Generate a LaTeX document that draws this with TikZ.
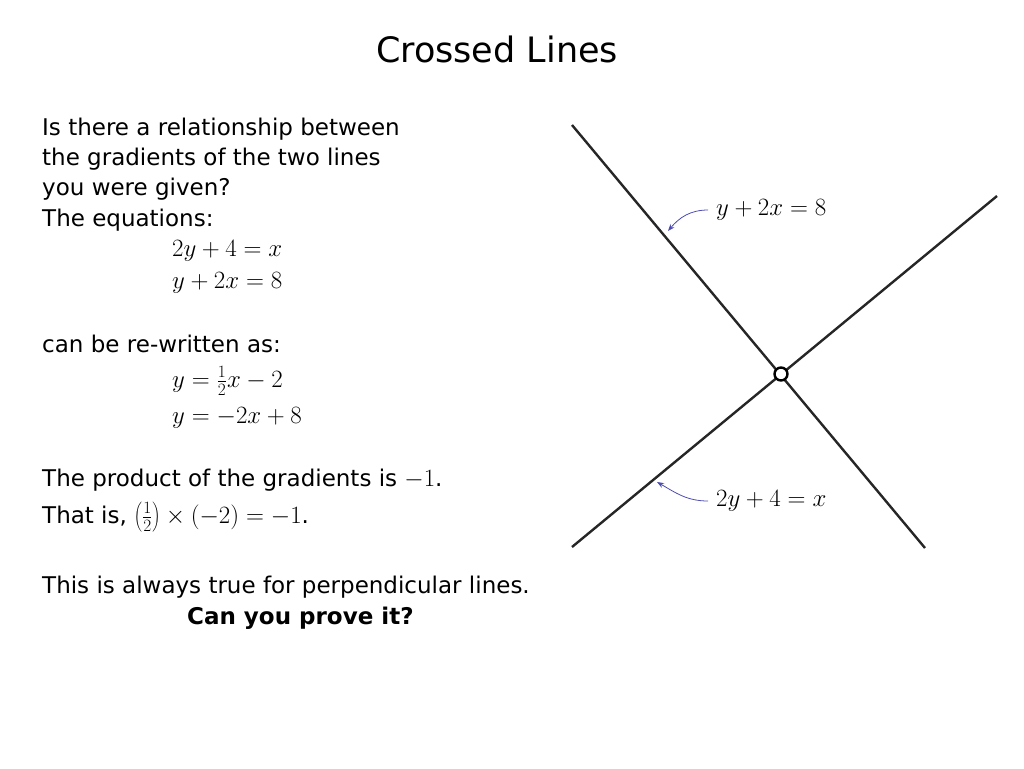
\documentclass[tikz,border=0pt]{standalone}
\usepackage{fontspec}
\setmainfont{DejaVu Sans}
\usetikzlibrary{arrows.meta}
\tikzset{
  txt/.style={anchor=west,inner sep=0pt,font=\fontsize{23}{26}\selectfont},
  eqn/.style={anchor=west,inner sep=0pt,font=\fontsize{25}{28}\selectfont},
  crossline/.style={line width=2.4pt,black!85},
  pointer/.style={-{Stealth[length=7pt]},draw=blue!40!gray,line width=0.8pt}
}
\begin{document}
\begin{tikzpicture}[x=1pt,y=-1pt]
\useasboundingbox (0,0) rectangle (1024,768);
\node[font=\fontsize{35}{38}\selectfont] (title) at (497,49) {Crossed Lines};
% question text
\node[txt] (q1) at (42,129) {Is there a relationship between};
\node[txt] (q2) at (42,159) {the gradients of the two lines};
\node[txt] (q3) at (42,189) {you were given?};
\node[txt] (q4) at (42,220) {The equations:};
\node[eqn] (e1) at (172,251) {$2y+4=x$};
\node[eqn] (e2) at (172,283) {$y+2x=8$};
\node[txt] (rw) at (42,344) {can be re-written as:};
\node[eqn] (e3) at (172,381) {$y=\frac{1}{2}x-2$};
\node[eqn] (e4) at (172,418) {$y=-2x+8$};
\node[txt] (p1) at (42,480) {The product of the gradients is {\fontsize{25}{28}\selectfont$-1$}.};
\node[txt] (p2) at (42,517) {That is, {\fontsize{25}{28}\selectfont$\left(\frac{1}{2}\right)\times(-2)=-1$}.};
\node[txt] (p3) at (42,587) {This is always true for perpendicular lines.};
\node[txt,font=\fontsize{23}{26}\selectfont\bfseries] (p4) at (187,618) {Can you prove it?};
% the two lines
\coordinate (a1) at (572,125);
\coordinate (a2) at (925,548);
\coordinate (b1) at (572,547);
\coordinate (b2) at (997,196);
\draw[crossline] (a1) -- (a2);
\draw[crossline] (b1) -- (b2);
\node[circle,draw,fill=white,line width=2.4pt,minimum size=13pt,inner sep=0pt] (X) at (781,374) {};
% labels
\node[eqn] (la) at (716,210) {$y+2x=8$};
\node[eqn] (lb) at (716,501) {$2y+4=x$};
\coordinate (ta) at (668,231);
\coordinate (tb) at (657,482);
\draw[pointer] (la.west) ++(-8,0) to[out=180,in=50] (ta);
\draw[pointer] (lb.west) ++(-8,0) to[out=180,in=-30] (tb);
\end{tikzpicture}
\end{document}
